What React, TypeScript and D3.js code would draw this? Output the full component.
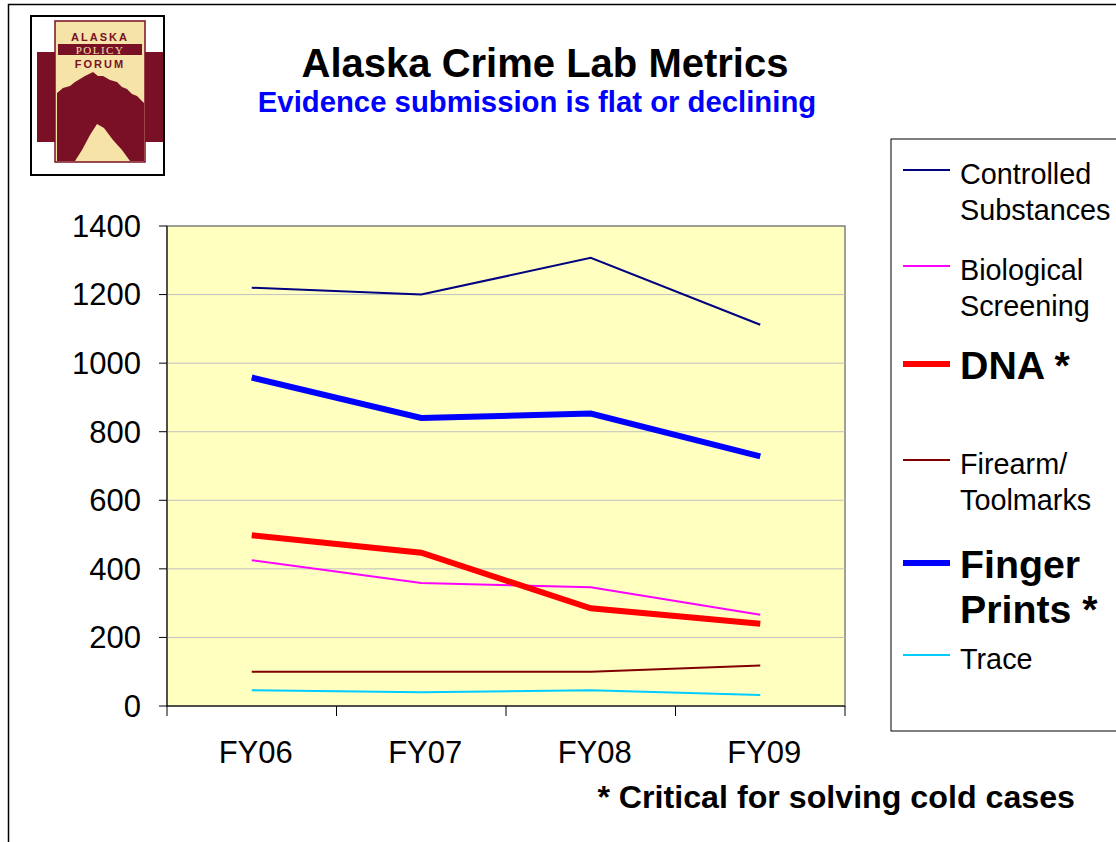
import React from "react";
import * as d3 from "d3";

const categories = ["FY06", "FY07", "FY08", "FY09"];
const controlledSubstances = [1220, 1200, 1307, 1112];
const biologicalScreening = [425, 359, 346, 266];
const dna = [498, 447, 285, 240];
const firearmToolmarks = [100, 100, 100, 118];
const fingerPrints = [958, 840, 853, 728];
const trace = [46, 40, 46, 32];
const yTicks = [0, 200, 400, 600, 800, 1000, 1200, 1400];

const series = [
  { name: ["Controlled", "Substances"], values: controlledSubstances, color: "#000080", width: 2, bold: false, ly: 170 },
  { name: ["Biological", "Screening"], values: biologicalScreening, color: "#FF00FF", width: 2, bold: false, ly: 266 },
  { name: ["DNA *"], values: dna, color: "#FF0000", width: 6, bold: true, ly: 364 },
  { name: ["Firearm/", "Toolmarks"], values: firearmToolmarks, color: "#800000", width: 2, bold: false, ly: 460 },
  { name: ["Finger", "Prints *"], values: fingerPrints, color: "#0000FF", width: 6, bold: true, ly: 563 },
  { name: ["Trace"], values: trace, color: "#00CCFF", width: 2, bold: false, ly: 655 },
];

const L = 167, R = 845, T = 226, B = 706;

export default function App() {
  const x = d3.scaleBand<string>().domain(categories).range([L, R]);
  const y = d3.scaleLinear().domain([0, 1400]).range([B, T]);
  const line = d3
    .line<number>()
    .x((_, i) => (x(categories[i]) as number) + x.bandwidth() / 2)
    .y((d) => y(d));
  const font = "Arial, 'Liberation Sans', sans-serif";
  const maroon = "#7A1026";
  const cream = "#F6E3A8";

  const mountain =
    "M57,93 L63,88 L70,86 L75,82 L85,76 L93,72 L98,76 L103,76 L110,80 L117,82 L122,87 L127,89 L132,94 L137,96 L144,103 L144,161 L130,161 L122,150 L113,140 L104,128 L97,124 L90,135 L82,150 L75,161 L57,161 Z";

  return (
    <div style={{ position: "absolute", left: 0, top: 0 }}>
      <svg width={1116} height={842} style={{ display: "block", fontFamily: font }}>
        <rect x={0} y={0} width={1116} height={842} fill="#fff" />
        <path d="M8.5,842 L8.5,4.5 L1116,4.5" fill="none" stroke="#000" strokeWidth={1.5} />

        {/* logo */}
        <rect x={31} y={16} width={133} height={159} fill="#fff" stroke="#000" strokeWidth={2} />
        <rect x={37} y={52} width={126} height={90} fill={maroon} />
        <rect x={55} y={21} width={90} height={141} fill={cream} stroke={maroon} strokeWidth={1.5} />
        <rect x={58} y={44} width={84} height={11} fill={maroon} />
        <text x={100} y={41} textAnchor="middle" fontWeight="bold" fontSize={11} fill={maroon} letterSpacing={2}>ALASKA</text>
        <text x={100} y={53.5} textAnchor="middle" fontSize={11} fill={cream} fontFamily="'Liberation Serif', serif" letterSpacing={1.5}>POLICY</text>
        <text x={100} y={68} textAnchor="middle" fontWeight="bold" fontSize={11} fill={maroon} letterSpacing={2}>FORUM</text>
        <path d={mountain} fill={maroon} />

        {/* titles */}
        <text x={545} y={77} textAnchor="middle" fontWeight="bold" fontSize={40} fill="#000">Alaska Crime Lab Metrics</text>
        <text x={537} y={112} textAnchor="middle" fontWeight="bold" fontSize={29.3} fill="#0000FF">Evidence submission is flat or declining</text>

        {/* plot area */}
        <rect x={L} y={T} width={R - L} height={B - T} fill="#FFFFC0" stroke="#808080" strokeWidth={1.5} />
        {yTicks.slice(1, -1).map((t) => (
          <line key={t} x1={L} x2={R} y1={y(t)} y2={y(t)} stroke="#C0C0C0" strokeWidth={1} />
        ))}
        <line x1={L} x2={L} y1={T} y2={B} stroke="#000" strokeWidth={1} />
        <line x1={L} x2={R} y1={B} y2={B} stroke="#000" strokeWidth={1} />
        {yTicks.map((t) => (
          <g key={t}>
            <line x1={L - 8} x2={L} y1={y(t)} y2={y(t)} stroke="#000" strokeWidth={1} />
            <text x={141} y={y(t)} dy="0.35em" textAnchor="end" fontSize={31} fill="#000">{t}</text>
          </g>
        ))}
        {[...categories.map((c) => x(c) as number), R].map((v, i) => (
          <line key={i} x1={v} x2={v} y1={B} y2={B + 10} stroke="#000" strokeWidth={1} />
        ))}
        {categories.map((c) => (
          <text key={c} x={(x(c) as number) + x.bandwidth() / 2 + 4} y={763} textAnchor="middle" fontSize={31} fill="#000">{c}</text>
        ))}

        {series.map((s) => (
          <path key={s.name.join(" ")} d={line(s.values) as string} fill="none" stroke={s.color} strokeWidth={s.width} strokeLinejoin="miter" />
        ))}

        {/* legend */}
        <rect x={891} y={139} width={240} height={592} fill="#fff" stroke="#000" strokeWidth={1} />
        {series.map((s) => (
          <g key={"lg" + s.name.join(" ")}>
            <line x1={903} x2={950} y1={s.ly} y2={s.ly} stroke={s.color} strokeWidth={s.width} />
            {s.name.map((n, i) => (
              <text
                key={n}
                x={960}
                y={s.ly + (s.bold ? 15 : 14) + i * (s.bold ? 45 : 36)}
                fontSize={s.bold ? 39.3 : 28.8}
                fontWeight={s.bold ? "bold" : "normal"}
                fill="#000"
              >
                {n}
              </text>
            ))}
          </g>
        ))}

        <text x={1075} y={808} textAnchor="end" fontWeight="bold" fontSize={32.2} fill="#000">* Critical for solving cold cases</text>
      </svg>
    </div>
  );
}
